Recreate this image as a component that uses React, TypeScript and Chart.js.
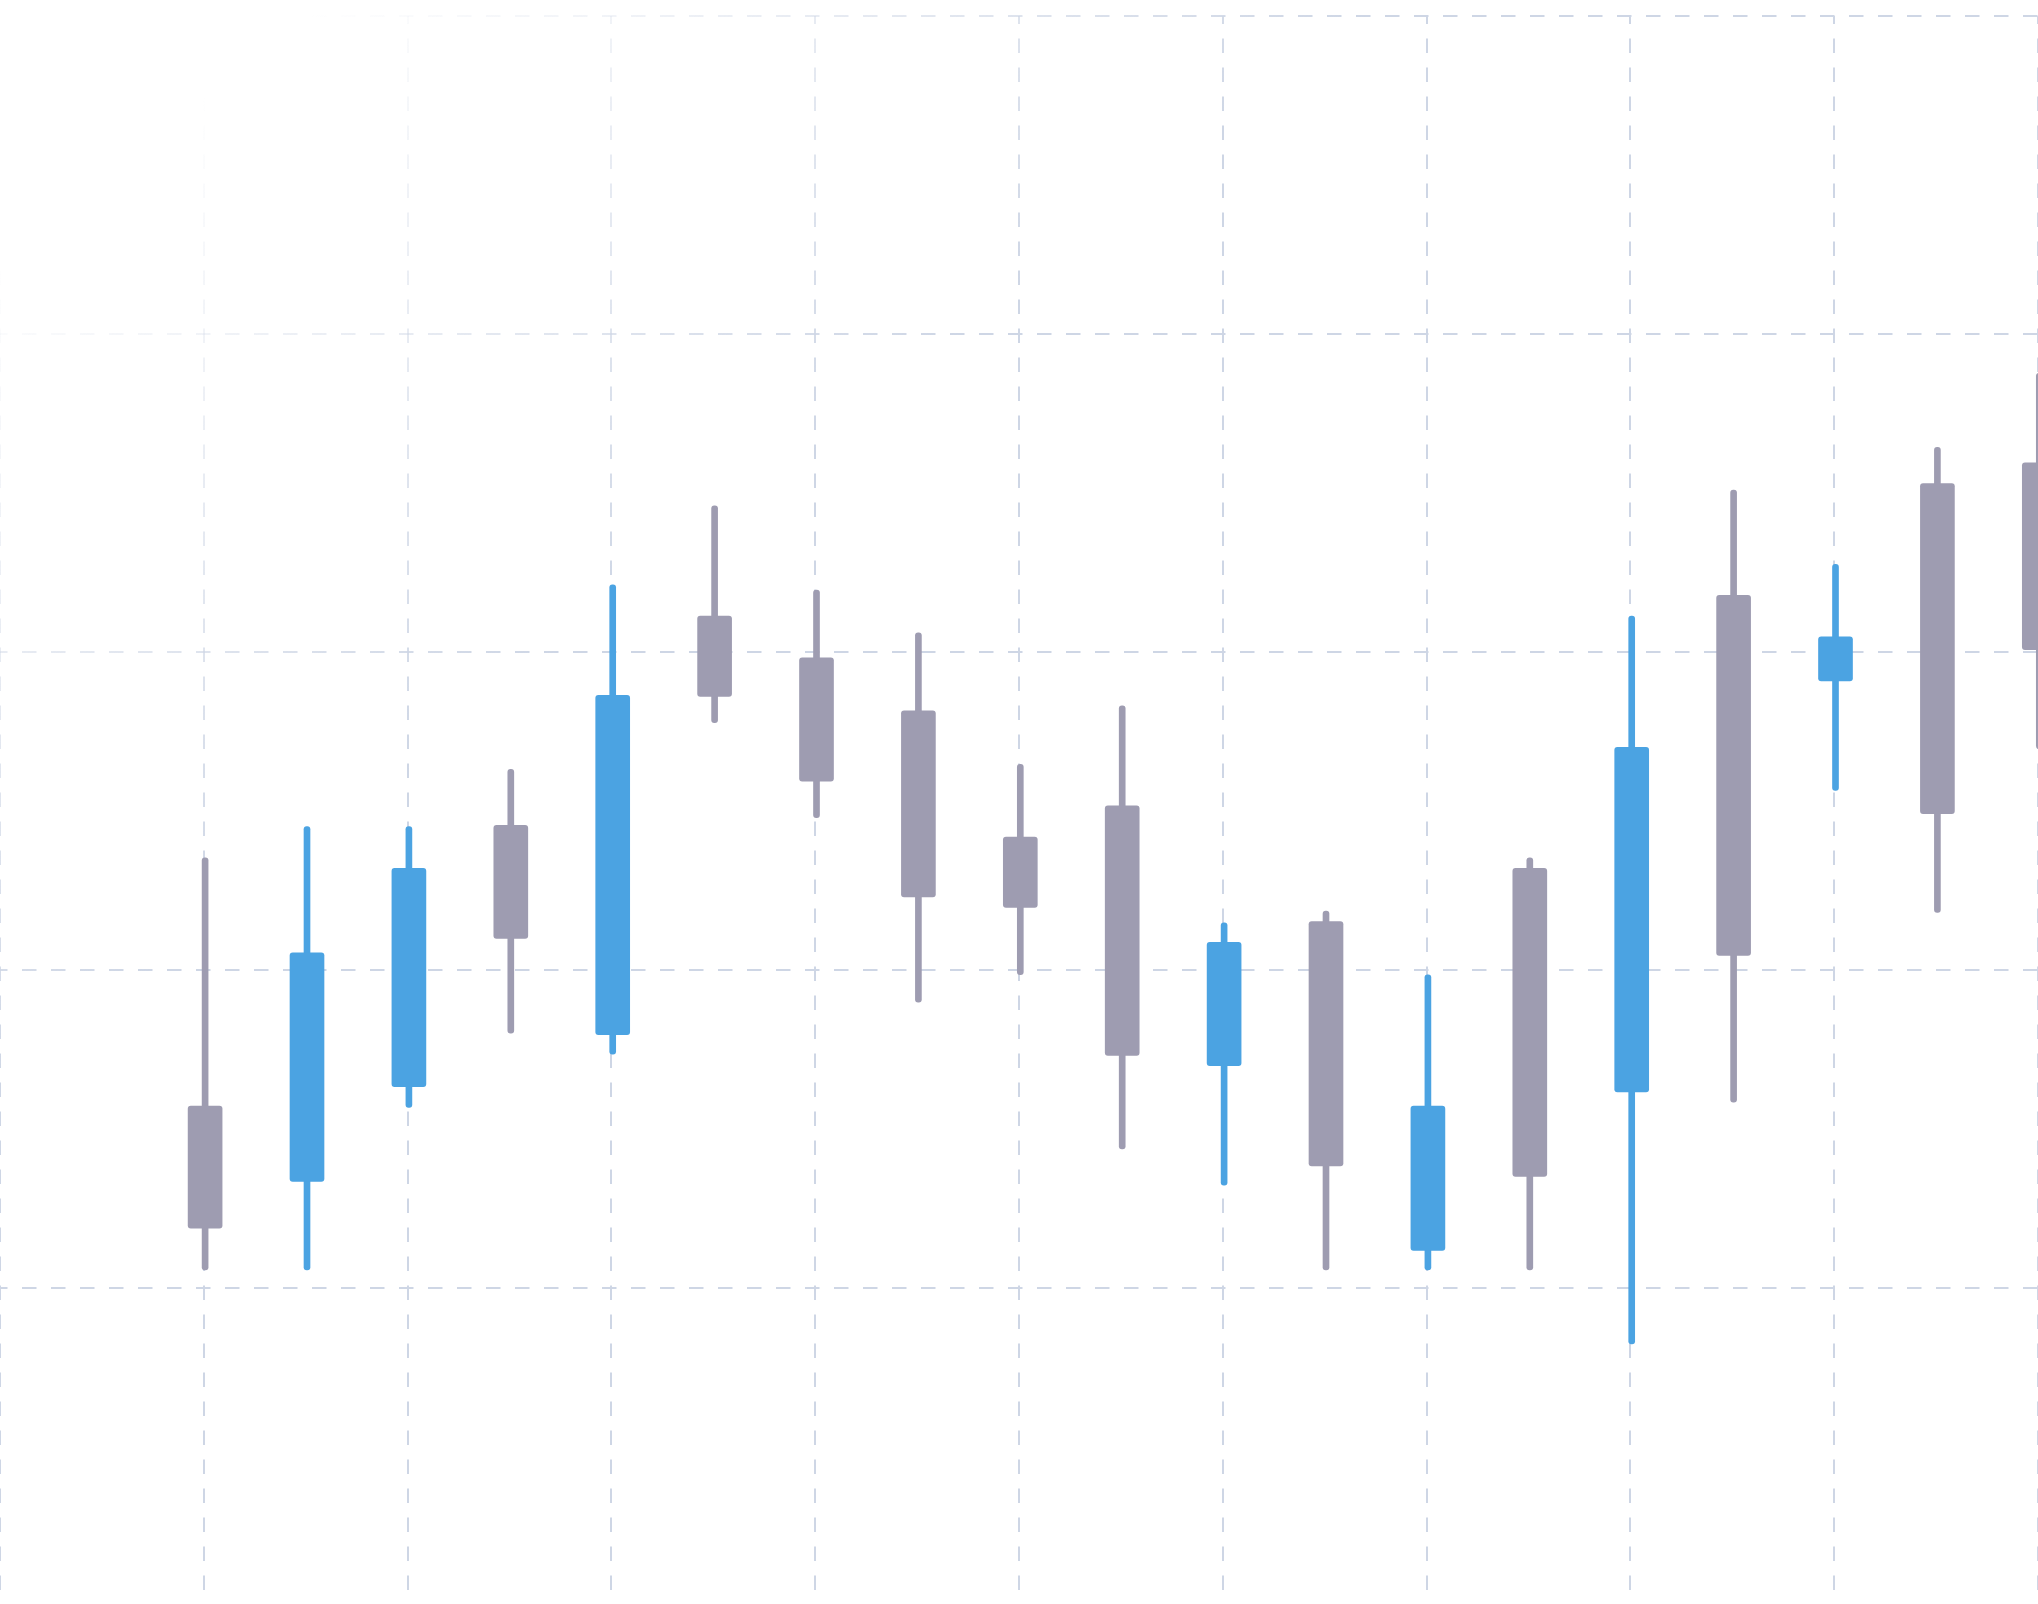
import React, { useEffect, useRef } from 'react';
import { Chart, registerables } from 'chart.js';

Chart.register(...registerables);

// ---- data ----
const days = [0, 1, 2, 3, 4, 5, 6, 7, 8, 9, 10, 11, 12, 13, 14, 15, 16, 17, 18];
const opens = [157.2, 133.5, 163.3, 245.5, 179.7, 311.3, 298.2, 281.5, 241.8, 251.6, 169.9, 215.2, 111.8, 232.0, 161.7, 317.8, 290.9, 353.0, 359.5];
const highs = [235.3, 245.1, 245.1, 263.1, 321.1, 346.0, 319.5, 306.0, 264.7, 283.1, 214.8, 218.5, 198.5, 235.3, 311.3, 350.9, 327.6, 364.4, 387.7];
const lows = [105.7, 105.7, 156.8, 180.1, 173.5, 277.8, 247.9, 189.9, 198.5, 143.7, 132.3, 105.7, 105.7, 105.7, 82.4, 158.4, 256.5, 218.1, 269.6];
const closes = [118.8, 205.4, 232.0, 209.9, 286.4, 286.0, 259.4, 223.0, 219.7, 173.1, 208.7, 138.4, 157.2, 135.1, 270.0, 204.6, 304.8, 249.2, 300.7];

const xGridTicks = [-2, 0, 2, 4, 6, 8, 10, 12, 14, 16, 18];
const yGridTicks = [100, 200, 300, 400, 500];

const UP_COLOR = '#4ba3e2';
const DOWN_COLOR = '#9e9cb1';
const GRID_RGB = '206, 214, 229';

// candles sit ~1.3px right of the grid lines in the reference
const X_MIN = -2;
const X_MAX = 18;
const DATA_SHIFT = 0.0128;

function gridGradient(chart: any) {
  const { ctx, width: W, height: H } = chart;
  const s = 2 / (H / W + W / H);
  const g = ctx.createLinearGradient(0, 0, s * H, s * W);
  g.addColorStop(0, `rgba(${GRID_RGB}, 0)`);
  g.addColorStop(0.08, `rgba(${GRID_RGB}, 0)`);
  g.addColorStop(0.34, `rgba(${GRID_RGB}, 1)`);
  g.addColorStop(1, `rgba(${GRID_RGB}, 1)`);
  return g;
}

export default function App() {
  const canvasRef = useRef<HTMLCanvasElement | null>(null);

  useEffect(() => {
    if (!canvasRef.current) return;
    const colors = days.map((_, i) => (closes[i] >= opens[i] ? UP_COLOR : DOWN_COLOR));
    const chart = new Chart(canvasRef.current, {
      type: 'bar',
      data: {
        datasets: [
          {
            label: 'body',
            xAxisID: 'xd',
            yAxisID: 'y',
            data: days.map((d, i) => ({ x: d, y: [opens[i], closes[i]] })) as any,
            backgroundColor: colors,
            borderWidth: 0,
            borderRadius: 3,
            borderSkipped: false,
            grouped: false,
            barPercentage: 1,
            categoryPercentage: 1,
            maxBarThickness: 34,
            order: 0,
          } as any,
          {
            label: 'wick',
            xAxisID: 'xd',
            yAxisID: 'y',
            data: days.map((d, i) => ({ x: d, y: [lows[i], highs[i]] })) as any,
            backgroundColor: colors,
            borderWidth: 0,
            borderRadius: 3,
            borderSkipped: false,
            grouped: false,
            barPercentage: 1,
            categoryPercentage: 1,
            maxBarThickness: 6,
            order: 1,
          } as any,
        ],
      },
      options: {
        animation: false,
        responsive: true,
        maintainAspectRatio: false,
        layout: { padding: { top: 16, left: 0, right: 0, bottom: 0 } },
        plugins: { legend: { display: false }, tooltip: { enabled: false } },
        events: [],
        scales: {
          xd: {
            type: 'linear',
            axis: 'x',
            position: 'bottom',
            display: false,
            min: X_MIN - DATA_SHIFT,
            max: X_MAX - DATA_SHIFT,
            offset: false,
            grid: { offset: false, display: false },
          },
          x: {
            type: 'linear',
            position: 'bottom',
            min: X_MIN,
            max: X_MAX,
            offset: false,
            afterBuildTicks: (scale: any) => {
              scale.ticks = xGridTicks.map((v) => ({ value: v }));
            },
            ticks: { display: false },
            grid: {
              offset: false,
              drawTicks: false,
              lineWidth: 2,
              color: (c: any) => gridGradient(c.chart),
            },
            border: { display: false, dash: [14.5, 14.5], dashOffset: 6.4 },
          },
          y: {
            type: 'linear',
            min: 0.63,
            max: 500,
            afterBuildTicks: (scale: any) => {
              scale.ticks = yGridTicks.map((v) => ({ value: v }));
            },
            ticks: { display: false },
            grid: {
              drawTicks: false,
              lineWidth: 2,
              color: (c: any) => gridGradient(c.chart),
            },
            border: { display: false, dash: [14.5, 14.5], dashOffset: 7 },
          },
        },
      } as any,
    });
    return () => chart.destroy();
  }, []);

  return (
    <div style={{ position: 'fixed', left: 0, top: 0, width: '2038px', height: '1604px', background: '#ffffff' }}>
      <canvas ref={canvasRef} />
    </div>
  );
}
